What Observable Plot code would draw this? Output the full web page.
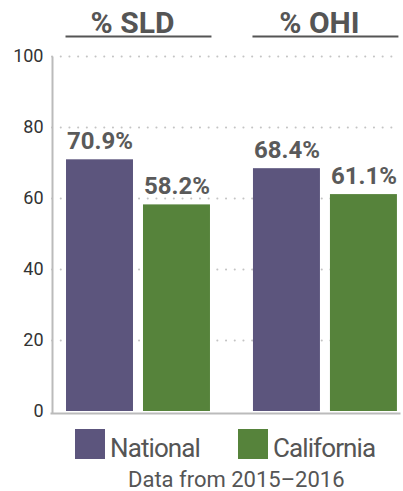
<!DOCTYPE html>
<html>
<head>
<meta charset="utf-8">
<script src="https://cdn.jsdelivr.net/npm/d3@7"></script>
<script src="https://cdn.jsdelivr.net/npm/@observablehq/plot@0.6"></script>
<style>
  html, body { margin: 0; padding: 0; background: #fff; }
  #wrap { position: relative; width: 403px; height: 491px; font-family: Roboto, "Noto Sans", sans-serif; overflow: hidden; }
  #wrap svg { position: absolute; left: 0; top: 0; }
  #legend { position: absolute; left: 75px; top: 429px; display: flex; align-items: flex-start; }
  .item { display: flex; align-items: flex-start; margin-right: 38px; }
  .sw { width: 30px; height: 30px; }
  .lab { margin-left: 5px; margin-top: 6px; font-size: 26px; line-height: 26px; letter-spacing: -0.9px; color: #555; }
  #caption { position: absolute; left: 128px; top: 469px; font-size: 22px; line-height: 22px; color: #555; white-space: nowrap; }
</style>
</head>
<body>
<div id="wrap"></div>
<script>
const groups = ["SLD", "OHI"];
const series = ["National", "California"];
const national = [70.9, 68.4];
const california = [58.2, 61.1];
const yTicks = [0, 20, 40, 60, 80, 100];
const colors = ["#5c557d", "#56833b"];
const captionText = "Data from 2015\u20132016";

const data = [];
groups.forEach((g, i) => {
  data.push({group: g, series: series[0], value: national[i]});
  data.push({group: g, series: series[1], value: california[i]});
});

const common = {
  width: 403,
  height: 428,
  marginTop: 56,
  marginLeft: 52,
  marginRight: 3,
  marginBottom: 17
};

// background: grid, y tick labels and axis lines spanning the whole frame
const back = Plot.plot({
  ...common,
  style: {fontFamily: "Roboto, 'Noto Sans', sans-serif", background: "transparent", overflow: "visible"},
  y: {domain: [0, 100], axis: null, label: null},
  marks: [
    Plot.gridY(yTicks.filter(t => t > 0), {stroke: "#c4c4c4", strokeOpacity: 1, strokeWidth: 2, strokeDasharray: "0.1,8.6", strokeLinecap: "round"}),
    Plot.text(yTicks, {y: d => d, text: d => String(d), frameAnchor: "left", textAnchor: "end", lineAnchor: "middle", dx: -9, fontSize: 18, fill: "#333"}),
    Plot.frame({anchor: "left", stroke: "#bbb", strokeWidth: 2, dy: 1}),
    Plot.frame({anchor: "bottom", stroke: "#bbb", strokeWidth: 2, dy: 2, dx: -1})
  ]
});

// foreground: faceted bars
const front = Plot.plot({
  ...common,
  style: {fontFamily: "Roboto, 'Noto Sans', sans-serif", background: "transparent", overflow: "visible"},
  fx: {domain: groups, paddingInner: 0.23, paddingOuter: 0.0457, align: 0.82, round: false, axis: null, label: null},
  x: {domain: series, paddingInner: 0.13, paddingOuter: 0, round: false, axis: null, label: null},
  y: {domain: [0, 100], axis: null, label: null},
  color: {domain: series, range: colors},
  marks: [
    Plot.barY(data, {fx: "group", x: "series", y: "value", fill: "series"}),
    Plot.text(data, {fx: "group", x: "series", y: "value", text: d => d.value.toFixed(1) + "%", lineAnchor: "bottom", dy: -11, fontSize: 24, fontWeight: "bold", fill: "#5a5a5a"}),
    Plot.text(groups, {fx: d => d, text: d => "% " + d, frameAnchor: "top", lineAnchor: "bottom", dy: -24, dx: -6, fontSize: 30, fontWeight: "bold", fill: "#555"}),
    Plot.frame({anchor: "top", dy: -20, stroke: "#555", strokeWidth: 2})
  ]
});

const wrap = document.getElementById("wrap");
wrap.appendChild(back);
wrap.appendChild(front);

const legend = document.createElement("div");
legend.id = "legend";
series.forEach((s, i) => {
  const item = document.createElement("div");
  item.className = "item";
  const sw = document.createElement("div");
  sw.className = "sw";
  sw.style.background = colors[i];
  const lab = document.createElement("span");
  lab.className = "lab";
  lab.textContent = s;
  item.appendChild(sw);
  item.appendChild(lab);
  legend.appendChild(item);
});
wrap.appendChild(legend);

const cap = document.createElement("div");
cap.id = "caption";
cap.textContent = captionText;
wrap.appendChild(cap);
</script>
</body>
</html>
